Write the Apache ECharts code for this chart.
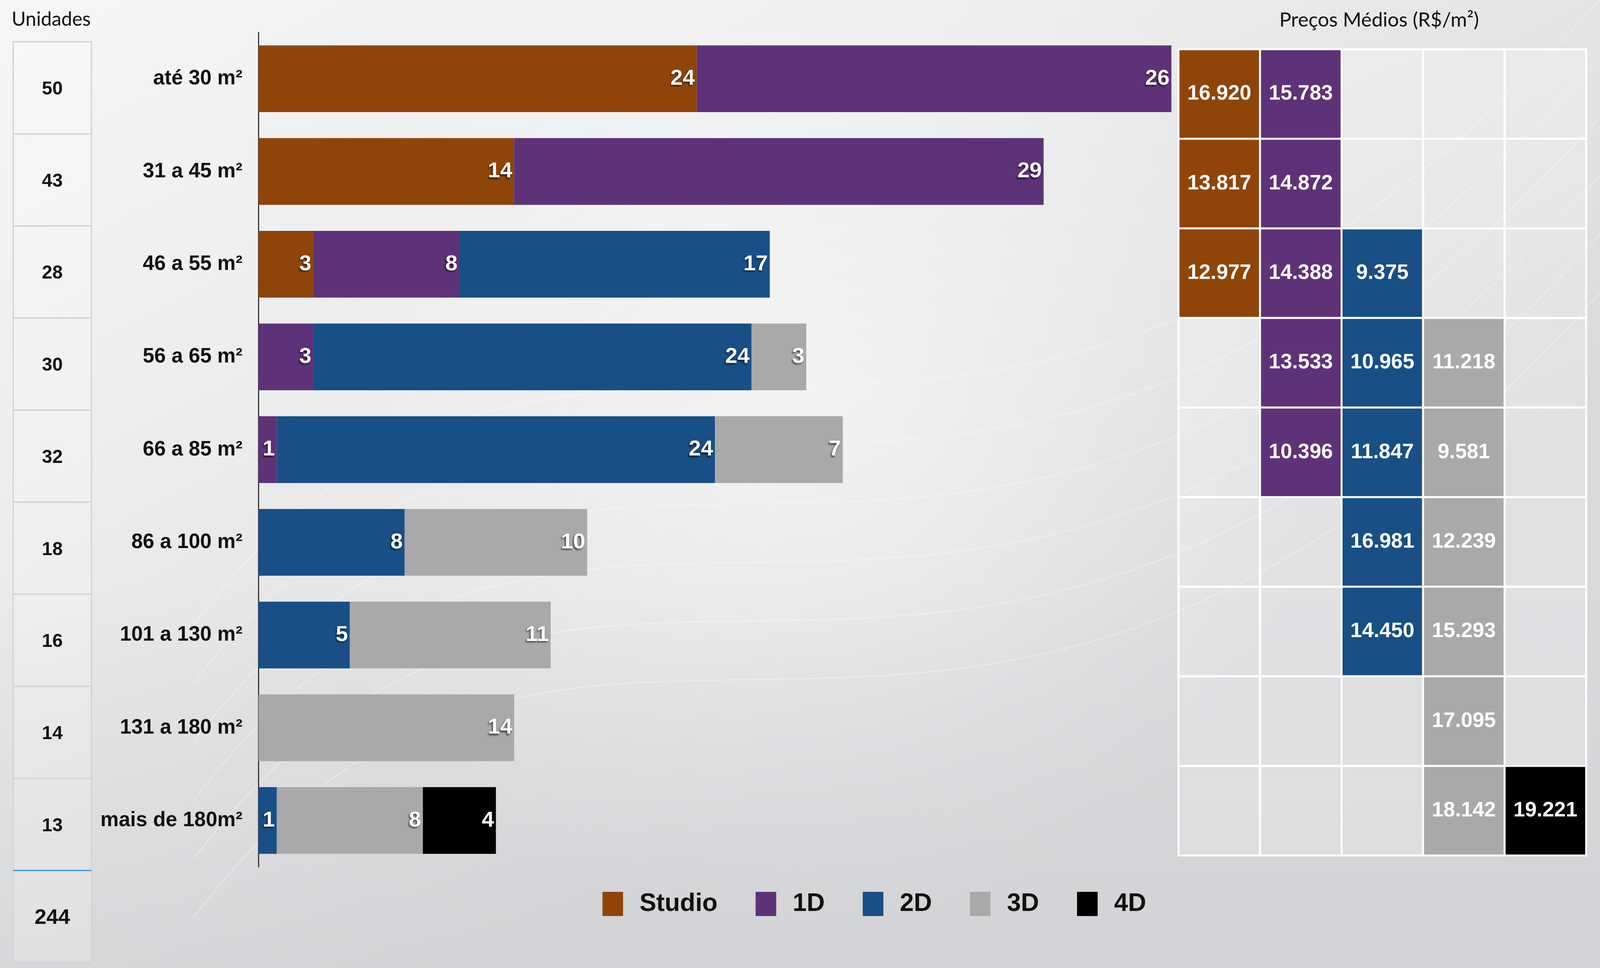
<!DOCTYPE html>
<html>
<head>
<meta charset="utf-8">
<script src="https://cdn.jsdelivr.net/npm/echarts@6/dist/echarts.min.js"></script>
<style>
html,body{margin:0;padding:0;width:100%;height:100%;overflow:hidden;}
#chart{width:100vw;height:100vh;}
</style>
</head>
<body>
<div id="chart"></div>
<script>
// ---- data ----
const categories = ['até 30 m²','31 a 45 m²','46 a 55 m²','56 a 65 m²','66 a 85 m²','86 a 100 m²','101 a 130 m²','131 a 180 m²','mais de 180m²'];
const types = ['Studio','1D','2D','3D','4D'];
const unitsStudio = [24,14,3,0,0,0,0,0,0];
const units1D     = [26,29,8,3,1,0,0,0,0];
const units2D     = [0,0,17,24,24,8,5,0,1];
const units3D     = [0,0,0,3,7,10,11,14,8];
const units4D     = [0,0,0,0,0,0,0,0,4];
const unitTotals  = [50,43,28,30,32,18,16,14,13];
const grandTotal  = 244;
const priceStudio = [16920,13817,12977,null,null,null,null,null,null];
const price1D     = [15783,14872,14388,13533,10396,null,null,null,null];
const price2D     = [null,null,9375,10965,11847,16981,14450,null,null];
const price3D     = [null,null,null,11218,9581,12239,15293,17095,18142];
const price4D     = [null,null,null,null,null,null,null,null,19221];
const titleUnits  = 'Unidades';
const titlePrices = 'Preços Médios (R$/m²)';
const totalLabel  = 'Total';

// ---- styles ----
const colors = ['#8f4508','#5e3278','#174f86','#a8a9a8','#000000'];
const FONT = "'Liberation Sans', Arial, Helvetica, sans-serif";
const TFONT = "Lato, 'Open Sans', sans-serif";
const unitSeries = [unitsStudio, units1D, units2D, units3D, units4D];
const priceSeries = [priceStudio, price1D, price2D, price3D, price4D];

const el = document.getElementById('chart');
const W = el.clientWidth || window.innerWidth, H = el.clientHeight || window.innerHeight;
const sx = W / 4969, sy = H / 2478;
const X = v => v * sx, Y = v => v * sy, F = v => v * sx;

function fmt(v){ return String(v).replace(/\B(?=(\d{3})+(?!\d))/g, '.'); }

const chart = echarts.init(el, null, {renderer:'canvas'});

const barSeries = types.map((t,i)=>({
  name: t,
  type: 'bar',
  stack: 'u',
  xAxisIndex: 0, yAxisIndex: 0,
  barCategoryGap: '28%',
  itemStyle: {color: colors[i]},
  data: unitSeries[i].map(v => v ? v : '-'),
  label: {
    show: true, position: 'insideRight', distance: X(6),
    color: '#fff', fontFamily: FONT, fontWeight: 'bold', fontSize: F(68),
    textShadowColor: 'rgba(0,0,0,0.65)', textShadowBlur: F(5),
    textShadowOffsetX: -F(3), textShadowOffsetY: F(4)
  },
  emphasis: {disabled: true}
}));

const priceData = [];
priceSeries.forEach((arr,c)=>arr.forEach((v,r)=>priceData.push([c, r, v === null ? '-' : v])));

const unitData = unitTotals.map((v,r)=>[0, r, v]);
unitData.push([0, unitTotals.length, grandTotal]);

// decorative background: soft light swoosh
const deco = [
  {type:'rect', silent:true, z:-10, shape:{x:0,y:0,width:W,height:H},
   style:{fill:{type:'radial', x:0.5, y:0.42, r:0.55,
     colorStops:[{offset:0,color:'rgba(255,255,255,0.55)'},{offset:1,color:'rgba(255,255,255,0)'}]}}},
  {type:'rect', silent:true, z:-10, shape:{x:0,y:Y(1500),width:W,height:Y(978)},
   style:{fill:{type:'linear', x:0, y:0, x2:0, y2:1,
     colorStops:[{offset:0,color:'rgba(200,201,204,0)'},{offset:1,color:'rgba(200,201,204,0.35)'}]}}}
];
const curveStarts = [900, 1050, 1200, 1350, 1500, 1650];
curveStarts.forEach((y0, k) => {
  deco.push({type:'bezierCurve', silent:true, z:-9,
    shape:{x1:X(600), y1:Y(y0+700), cpx1:X(1800), cpy1:Y(y0-600), cpx2:X(3000), cpy2:Y(y0+900), x2:X(4969), y2:Y(y0-900)},
    style:{stroke:'rgba(255,255,255,0.35)', lineWidth: X(3), fill:null}});
});

chart.setOption({
  backgroundColor: {
    type: 'linear', x: 0, y: 0, x2: 0.3, y2: 1,
    colorStops: [{offset:0,color:'#f5f6f6'},{offset:0.45,color:'#ebecec'},{offset:1,color:'#d8d9db'}]
  },
  animation: false,
  graphic: {elements: deco},
  title: [
    {text: titleUnits, left: X(36), top: Y(26), padding: 0, textStyle:{fontFamily:TFONT, fontWeight:'normal', fontSize:F(60), color:'#111'}},
    {text: titlePrices, left: X(4283), textAlign: 'center', top: Y(26), padding: 0, textStyle:{fontFamily:TFONT, fontWeight:'normal', fontSize:F(62), color:'#111'}}
  ],
  legend: {
    data: types, left: X(1871), top: Y(2282), icon: 'rect', padding: 0,
    itemWidth: X(64), itemHeight: Y(62), itemGap: X(118),
    textStyle: {fontFamily: FONT, fontWeight:'bold', fontSize: F(78), color:'#111', padding:[0,0,0,X(45)]},
    selectedMode: false
  },
  grid: [
    {left: X(803), top: Y(83), width: X(2835), height: Y(2136)},
    {left: X(3660), top: Y(126), width: X(1266), height: Y(2064)},
    {left: X(41), top: Y(107), width: X(243), height: Y(2357)}
  ],
  xAxis: [
    {gridIndex:0, type:'value', min:0, max:50, show:false},
    {gridIndex:1, type:'category', data: types, show:false},
    {gridIndex:2, type:'category', data:['u'], show:false}
  ],
  yAxis: [
    {gridIndex:0, type:'category', data: categories, inverse:true,
     axisLine:{show:true, lineStyle:{color:'#111', width:X(3)}}, axisTick:{show:false},
     axisLabel:{margin: X(50), fontFamily: FONT, fontWeight:'bold', fontSize: F(64), color:'#111'}},
    {gridIndex:1, type:'category', data: categories, inverse:true, show:false},
    {gridIndex:2, type:'category', data: categories.concat([totalLabel]), inverse:true, show:false}
  ],
  series: barSeries.concat([
    {
      type: 'custom', xAxisIndex: 1, yAxisIndex: 1, silent: true,
      data: priceData,
      renderItem: function(params, api){
        const c = api.value(0), r = api.value(1), v = api.value(2);
        const pt = api.coord([c, r]);
        const sz = api.size([1, 1]);
        const empty = isNaN(v);
        const children = [{
          type: 'rect',
          shape: {x: pt[0]-sz[0]/2, y: pt[1]-sz[1]/2, width: sz[0], height: sz[1]},
          style: {fill: empty ? 'rgba(255,255,255,0.22)' : colors[c], stroke: '#ffffff', lineWidth: X(6)}
        }];
        if (!empty) children.push({
          type: 'text',
          style: {text: fmt(v), x: pt[0], y: pt[1], fill:'#fff', font: 'bold ' + F(65) + 'px ' + FONT, align:'center', verticalAlign:'middle'}
        });
        return {type:'group', children: children};
      }
    },
    {
      type: 'custom', xAxisIndex: 2, yAxisIndex: 2, silent: true,
      data: unitData,
      renderItem: function(params, api){
        const r = api.value(1), v = api.value(2);
        const pt = api.coord([0, r]);
        const sz = api.size([1, 1]);
        const isTotal = r === unitTotals.length;
        const x0 = pt[0]-sz[0]/2, y0 = pt[1]-sz[1]/2;
        const children = [{
          type: 'rect',
          shape: {x: x0, y: y0, width: sz[0], height: sz[1]},
          style: {fill: 'rgba(255,255,255,0.22)', stroke: '#d2d3d4', lineWidth: X(4)}
        },{
          type: 'text',
          style: {text: String(v), x: pt[0], y: pt[1] + Y(4), fill:'#111', font: 'bold ' + F(isTotal ? 66 : 58) + 'px ' + FONT, align:'center', verticalAlign:'middle'}
        }];
        if (isTotal) children.push({
          type: 'line', shape: {x1: x0, y1: y0, x2: x0 + sz[0], y2: y0},
          style: {stroke: '#3d9be9', lineWidth: X(4)}
        });
        return {type:'group', children: children};
      }
    }
  ])
});
</script>
</body>
</html>
